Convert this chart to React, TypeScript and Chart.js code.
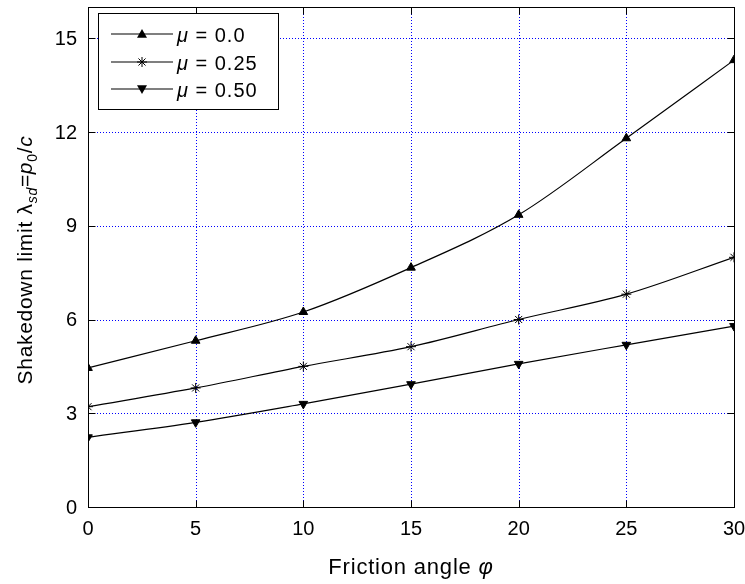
import React, { useEffect, useRef } from "react";
import { Chart, registerables } from "chart.js";

Chart.register(...registerables);

const frictionAngles = [0, 5, 10, 15, 20, 25, 30];
const mu000 = [4.45, 5.32, 6.24, 7.66, 9.35, 11.8, 14.3];
const mu025 = [3.21, 3.81, 4.5, 5.13, 6.0, 6.81, 7.99];
const mu050 = [2.23, 2.71, 3.3, 3.93, 4.58, 5.19, 5.79];
const legendLabels = ["0.0", "0.25", "0.50"];
const xTicks = [0, 5, 10, 15, 20, 25, 30];
const yTicks = [0, 3, 6, 9, 12, 15];

const FONT = "'Liberation Sans', Arial, Helvetica, sans-serif";

type Seg = { t: string; italic?: boolean; size?: number; dy?: number };

function setFont(ctx: CanvasRenderingContext2D, s: Seg, base: number, ls: number) {
  ctx.font = `${s.italic ? "italic " : ""}${s.size || base}px ${FONT}`;
  (ctx as any).letterSpacing = `${ls}px`;
}

function segWidth(ctx: CanvasRenderingContext2D, segs: Seg[], base: number, ls = 0) {
  let w = 0;
  for (const s of segs) {
    setFont(ctx, s, base, ls);
    w += ctx.measureText(s.t).width;
  }
  return w;
}

function drawSegs(ctx: CanvasRenderingContext2D, segs: Seg[], x: number, y: number, base: number, ls = 0) {
  let cx = x;
  for (const s of segs) {
    setFont(ctx, s, base, ls);
    ctx.fillText(s.t, cx, y + (s.dy || 0));
    cx += ctx.measureText(s.t).width;
  }
  (ctx as any).letterSpacing = "0px";
}

const markerStyles = ["triangle", "star", "triangle"];
const markerRot = [0, 0, 180];

function drawMarker(ctx: CanvasRenderingContext2D, style: string, rot: number, x: number, y: number) {
  const r = 5;
  ctx.save();
  ctx.fillStyle = "#000";
  ctx.strokeStyle = "#000";
  if (style === "triangle") {
    const s = rot === 180 ? -1 : 1;
    ctx.beginPath();
    ctx.moveTo(x, y - s * r);
    ctx.lineTo(x - r, y + s * r * 0.75);
    ctx.lineTo(x + r, y + s * r * 0.75);
    ctx.closePath();
    ctx.fill();
  } else {
    ctx.lineWidth = 1;
    ctx.beginPath();
    ctx.moveTo(x - r, y);
    ctx.lineTo(x + r, y);
    ctx.moveTo(x, y - r);
    ctx.lineTo(x, y + r);
    const d = r * 0.707;
    ctx.moveTo(x - d, y - d);
    ctx.lineTo(x + d, y + d);
    ctx.moveTo(x - d, y + d);
    ctx.lineTo(x + d, y - d);
    ctx.stroke();
  }
  ctx.restore();
}

const decorPlugin = {
  id: "decor",
  beforeDatasetsDraw(chart: any) {
    const ctx: CanvasRenderingContext2D = chart.ctx;
    const a = chart.chartArea;
    const xs = chart.scales.x;
    const ys = chart.scales.y;
    ctx.save();
    ctx.strokeStyle = "#0000ff";
    ctx.lineWidth = 1;
    ctx.setLineDash([1, 2]);
    ctx.beginPath();
    for (const v of xTicks) {
      const px = Math.round(xs.getPixelForValue(v)) + 0.5;
      ctx.moveTo(px, Math.round(a.bottom));
      ctx.lineTo(px, Math.round(a.top));
    }
    for (const v of yTicks) {
      const py = Math.round(ys.getPixelForValue(v)) + 0.5;
      ctx.moveTo(Math.round(a.left), py);
      ctx.lineTo(Math.round(a.right), py);
    }
    ctx.stroke();
    ctx.restore();
  },
  afterDraw(chart: any) {
    const ctx: CanvasRenderingContext2D = chart.ctx;
    const a = chart.chartArea;
    const xs = chart.scales.x;
    const ys = chart.scales.y;
    ctx.save();
    ctx.strokeStyle = "#000";
    ctx.lineWidth = 1;
    ctx.setLineDash([]);
    const L = Math.round(a.left) + 0.5, T = Math.round(a.top) + 0.5;
    const R = Math.round(a.right) + 0.5, B = Math.round(a.bottom) + 0.5;
    ctx.strokeRect(L, T, R - L, B - T);
    const tl = 7;
    ctx.beginPath();
    for (const v of xTicks) {
      const px = Math.round(xs.getPixelForValue(v)) + 0.5;
      ctx.moveTo(px, B);
      ctx.lineTo(px, B - tl);
      ctx.moveTo(px, T);
      ctx.lineTo(px, T + tl);
    }
    for (const v of yTicks) {
      const py = Math.round(ys.getPixelForValue(v)) + 0.5;
      ctx.moveTo(L, py);
      ctx.lineTo(L + tl, py);
      ctx.moveTo(R, py);
      ctx.lineTo(R - tl, py);
    }
    ctx.stroke();

    ctx.fillStyle = "#000";
    ctx.font = `20px ${FONT}`;
    ctx.textBaseline = "alphabetic";
    ctx.textAlign = "center";
    for (const v of xTicks) {
      ctx.fillText(String(v), xs.getPixelForValue(v), 535);
    }
    ctx.textAlign = "right";
    ctx.textBaseline = "middle";
    for (const v of yTicks) {
      ctx.fillText(String(v), 77, ys.getPixelForValue(v) + 1);
    }
    ctx.textAlign = "left";
    ctx.textBaseline = "alphabetic";

    const xt: Seg[] = [{ t: "Friction angle " }, { t: "φ", italic: true }];
    const xw = segWidth(ctx, xt, 22, 0.8);
    drawSegs(ctx, xt, (a.left + a.right) / 2 - xw / 2, 574, 22, 0.8);

    const yt: Seg[] = [
      { t: "Shakedown limit λ" },
      { t: "sd", italic: true, size: 14, dy: 5 },
      { t: "=" },
      { t: "p", italic: true },
      { t: "0", size: 14, dy: 5 },
      { t: "/" },
      { t: "c", italic: true },
    ];
    const yw = segWidth(ctx, yt, 21, 0.7);
    ctx.save();
    ctx.translate(32, (a.top + a.bottom) / 2 + 3);
    ctx.rotate(-Math.PI / 2);
    drawSegs(ctx, yt, -yw / 2, 0, 21, 0.7);
    ctx.restore();

    const lx = 98, ly = 13, lw = 180, lh = 96;
    ctx.fillStyle = "#fff";
    ctx.fillRect(lx, ly, lw, lh);
    ctx.strokeStyle = "#000";
    ctx.lineWidth = 1;
    ctx.strokeRect(lx + 0.5, ly + 0.5, lw, lh);
    const rows = [34, 62, 89];
    rows.forEach((ry, i) => {
      ctx.strokeStyle = "#000";
      ctx.lineWidth = 1.2;
      ctx.beginPath();
      ctx.moveTo(111, ry);
      ctx.lineTo(173, ry);
      ctx.stroke();
      drawMarker(ctx, markerStyles[i], markerRot[i], 142, ry);
      ctx.fillStyle = "#000";
      drawSegs(ctx, [{ t: "μ", italic: true }, { t: " = " + legendLabels[i] }], 177, ry + 7.5, 20, 1);
    });
    ctx.restore();
  },
};

function mk(values: number[], i: number) {
  return {
    label: "μ = " + legendLabels[i],
    data: frictionAngles.map((x, k) => ({ x, y: values[k] })),
    borderColor: "#000",
    backgroundColor: "#000",
    borderWidth: 1.2,
    pointStyle: markerStyles[i],
    rotation: markerRot[i],
    pointRadius: 5,
    pointBorderWidth: 1,
    pointBorderColor: "#000",
    pointBackgroundColor: "#000",
    cubicInterpolationMode: "monotone" as const,
    fill: false,
  };
}

export default function App() {
  const ref = useRef<HTMLCanvasElement>(null);
  useEffect(() => {
    document.body.style.margin = "0";
    const chart = new Chart(ref.current!, {
      type: "line",
      data: { datasets: [mk(mu000, 0), mk(mu025, 1), mk(mu050, 2)] },
      options: {
        animation: false,
        responsive: false,
        layout: { padding: { top: 7, right: 11, left: 0, bottom: 0 } },
        plugins: { legend: { display: false }, tooltip: { enabled: false } },
        scales: {
          x: {
            type: "linear",
            min: 0,
            max: 30,
            ticks: { display: false, stepSize: 5 },
            grid: { display: false },
            border: { display: false },
            afterFit: (s: any) => { s.height = 77; },
          },
          y: {
            type: "linear",
            min: 0,
            max: 16,
            ticks: { display: false, stepSize: 3 },
            grid: { display: false },
            border: { display: false },
            afterFit: (s: any) => { s.width = 88; },
          },
        },
      },
      plugins: [decorPlugin],
    } as any);
    return () => chart.destroy();
  }, []);
  return (
    <div style={{ width: 745, height: 584 }}>
      <canvas ref={ref} width={745} height={584} style={{ display: "block" }} />
    </div>
  );
}
